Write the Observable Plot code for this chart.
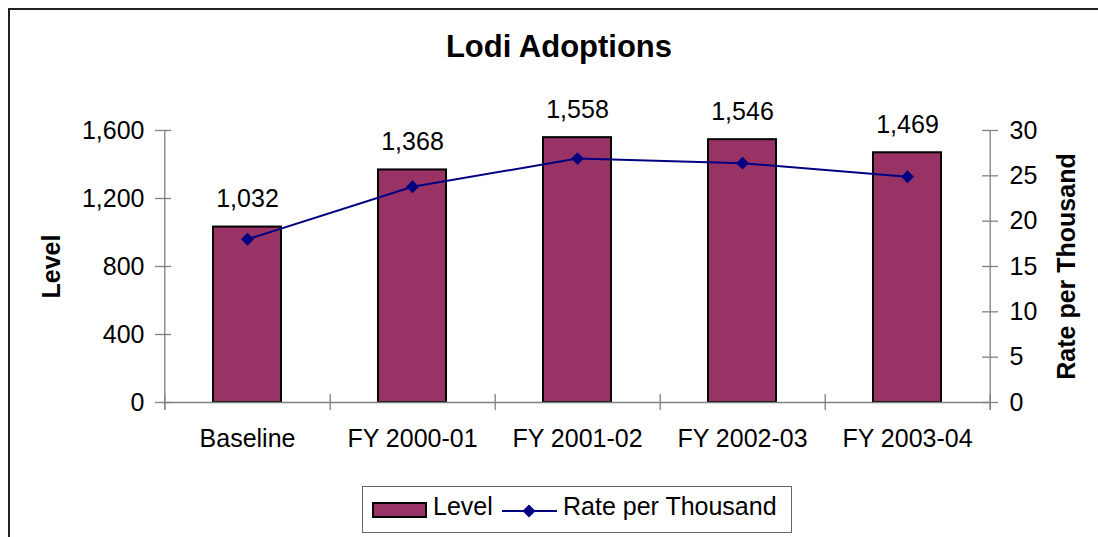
<!DOCTYPE html>
<html>
<head>
<meta charset="utf-8">
<script src="https://cdn.jsdelivr.net/npm/d3@7"></script>
<script src="https://cdn.jsdelivr.net/npm/@observablehq/plot@0.6"></script>
<style>
  html, body { margin: 0; padding: 0; background: #fff; }
  body { width: 1098px; height: 537px; overflow: hidden; font-family: "Liberation Sans", Arial, sans-serif; }
  #wrap { position: relative; width: 1098px; height: 537px; overflow: hidden; }
  #frame { position: absolute; left: 8px; top: 8px; width: 1300px; height: 700px; border-top: 2px solid #222; border-left: 2px solid #222; }
  #title { position: absolute; left: 0; width: 1118px; top: 31px; text-align: center; font-size: 31px; line-height: 31px; font-weight: bold; color: #000; }
  #chart { position: absolute; left: 0; top: 0; }
  .lg { position: absolute; }
  .lgtext { font-size: 25px; line-height: 25px; color: #000; white-space: nowrap; }
</style>
</head>
<body>
<div id="wrap">
  <div id="frame"></div>
  <div id="chart"></div>
  <div id="title">Lodi Adoptions</div>
  <div class="lg" style="left:362px;top:486px;width:430px;height:47px;border:1px solid #666;box-sizing:border-box;"></div>
  <div class="lg" style="left:372px;top:502px;width:55px;height:16px;background:#993366;border:2px solid #000;box-sizing:border-box;"></div>
  <div class="lg lgtext" style="left:433px;top:494px;">Level</div>
  <svg class="lg" style="left:500px;top:503px;" width="60" height="16">
    <line x1="2" x2="57" y1="8" y2="8" stroke="#000080" stroke-width="2"></line>
    <path d="M29,1.5 L35.5,8 L29,14.5 L22.5,8 Z" fill="#000080"></path>
  </svg>
  <div class="lg lgtext" style="left:563px;top:494px;">Rate per Thousand</div>
</div>
<script>
const categories = ["Baseline", "FY 2000-01", "FY 2001-02", "FY 2002-03", "FY 2003-04"];
const levels = [1032, 1368, 1558, 1546, 1469];
const rates = [18.0, 23.8, 26.9, 26.4, 24.9];
const levelTicks = [0, 400, 800, 1200, 1600];
const rateTicks = [0, 5, 10, 15, 20, 25, 30];

const levelMax = levelTicks[levelTicks.length - 1];
const rateMax = rateTicks[rateTicks.length - 1];
const toLevel = r => r * levelMax / rateMax;

const data = categories.map((c, i) => ({cat: c, level: levels[i], rate: rates[i]}));

const W = 1098, H = 470;
const mL = 163, mR = 108, mT = 130, mB = 68;
const frameW = W - mL - mR;
const frameH = H - mT - mB;
const step = frameW / categories.length;
const tickHalf = 8;
const axisColor = "#808080";
const font = "'Liberation Sans', Arial, sans-serif";

const chart = Plot.plot({
  width: W,
  height: H,
  marginLeft: mL,
  marginRight: mR,
  marginTop: mT,
  marginBottom: mB,
  style: {fontFamily: font, fontSize: "25px", background: "transparent", color: "#000", overflow: "visible"},
  x: {type: "band", domain: categories, paddingInner: 0.59, paddingOuter: 0.295, axis: null},
  y: {domain: [0, levelMax], axis: null},
  marks: [
    // bars
    Plot.barY(data, {x: "cat", y: "level", fill: "#993366", stroke: "#000", strokeWidth: 2}),
    // x axis line
    Plot.ruleY([0], {stroke: axisColor, strokeWidth: 1.3}),
    // left and right axis lines
    Plot.ruleX([categories[0]], {x: d => d, dx: -step / 2, stroke: axisColor, strokeWidth: 1.3, insetBottom: -tickHalf}),
    Plot.ruleX([categories[categories.length - 1]], {x: d => d, dx: step / 2, stroke: axisColor, strokeWidth: 1.3, insetBottom: -tickHalf}),
    // category boundary ticks
    Plot.ruleX([categories[0]], {x: d => d, dx: -step / 2, stroke: axisColor, strokeWidth: 1.3, insetTop: frameH - tickHalf, insetBottom: -tickHalf}),
    Plot.ruleX(categories, {x: d => d, dx: step / 2, stroke: axisColor, strokeWidth: 1.3, insetTop: frameH - tickHalf, insetBottom: -tickHalf}),
    // left y ticks (crossing)
    Plot.ruleY(levelTicks, {y: d => d, stroke: axisColor, strokeWidth: 1.3, insetLeft: -tickHalf, insetRight: frameW - tickHalf}),
    // right y ticks (crossing)
    Plot.ruleY(rateTicks.map(toLevel), {y: d => d, stroke: axisColor, strokeWidth: 1.3, insetLeft: frameW - tickHalf, insetRight: -tickHalf}),
    // axes labels
    Plot.axisY({ticks: levelTicks, tickSize: 0, tickPadding: 19, tickFormat: d3.format(","), label: null, fontSize: 25}),
    Plot.axisY({anchor: "right", ticks: rateTicks.map(toLevel), tickSize: 0, tickPadding: 19, tickFormat: d => d3.format("d")(Math.round(d * rateMax / levelMax)), label: null, fontSize: 25}),
    Plot.axisX({tickSize: 0, tickPadding: 27, label: null, fontSize: 25}),
    // axis titles
    Plot.text(["Level"], {frameAnchor: "left", dx: -112, rotate: -90, textAnchor: "middle", text: d => d, fontWeight: "bold", fontSize: 25}),
    Plot.text(["Rate per Thousand"], {frameAnchor: "right", dx: 76, rotate: -90, textAnchor: "middle", text: d => d, fontWeight: "bold", fontSize: 25}),
    // value labels
    Plot.text(data, {x: "cat", y: "level", text: d => d3.format(",")(d.level), dy: -20, lineAnchor: "bottom", fontSize: 25, fill: "#000"}),
    // rate line
    Plot.line(data, {x: "cat", y: d => toLevel(d.rate), stroke: "#000080", strokeWidth: 2}),
    Plot.dot(data, {x: "cat", y: d => toLevel(d.rate), symbol: "diamond2", r: 5.8, fill: "#000080", stroke: "none"})
  ]
});
document.getElementById("chart").appendChild(chart);
</script>
</body>
</html>
